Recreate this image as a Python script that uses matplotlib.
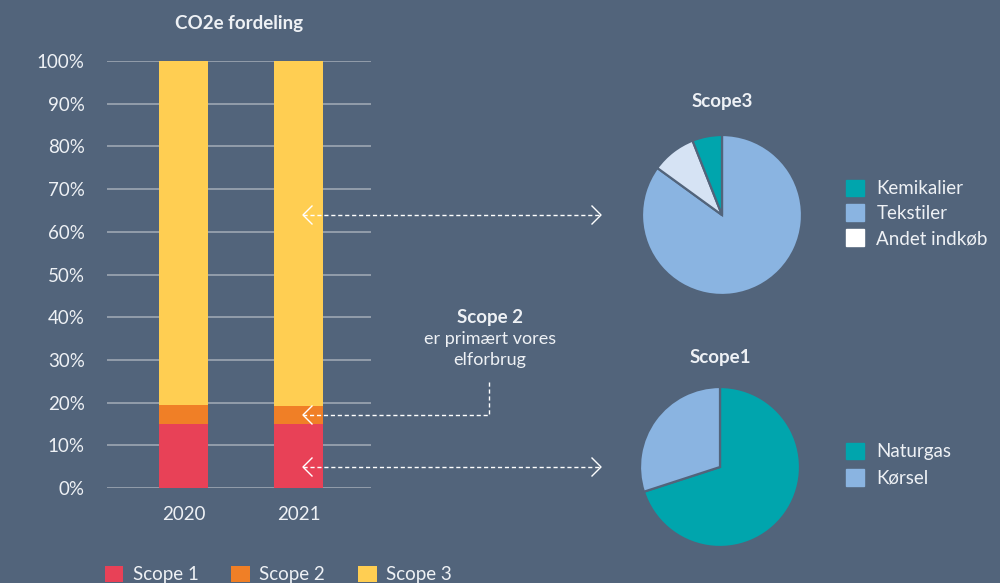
import matplotlib.pyplot as plt
from matplotlib.lines import Line2D
from matplotlib.patches import Patch

plt.rcParams['font.family'] = ['Lato', 'DejaVu Sans']

BG = '#52647b'
TXT = '#eef1f5'
GRID = '#97a1af'

# stacked bar data (share of total CO2e, %)
years = ['2020', '2021']
scope1 = [15.0, 15.0]
scope2 = [4.4, 4.2]
scope3 = [80.6, 80.8]
scope_names = ['Scope 1', 'Scope 2', 'Scope 3']
scope_colors = ['#e84157', '#f07f26', '#ffce52']

# scope 3 breakdown, clockwise from 12 o'clock
s3_labels = ['Tekstiler', 'Andet indkøb', 'Kemikalier']
s3_values = [85, 9, 6]
s3_colors = ['#8ab4e1', '#d6e3f4', '#00a5ad']
s3_legend = ['Kemikalier', 'Tekstiler', 'Andet indkøb']
s3_legend_colors = ['#00a5ad', '#8ab4e1', '#ffffff']

# scope 1 breakdown
s1_labels = ['Naturgas', 'Kørsel']
s1_values = [70, 30]
s1_colors = ['#00a5ad', '#8ab4e1']

W, H = 1000, 583
fig = plt.figure(figsize=(W / 100, H / 100), dpi=100, facecolor=BG)


def box(x0, y0, x1, y1):
    # pixel box (top-left origin) -> figure fraction rect
    return [x0 / W, (H - y1) / H, (x1 - x0) / W, (y1 - y0) / H]


def fx(x):
    return x / W


def fy(y):
    return (H - y) / H


# ---- stacked bars ----
ax = fig.add_axes(box(107, 61, 371, 488))
ax.set_facecolor(BG)
xs = range(len(years))
bw = 0.426
b1 = ax.bar(xs, scope1, width=bw, color=scope_colors[0], zorder=3)
b2 = ax.bar(xs, scope2, bottom=scope1, width=bw, color=scope_colors[1], zorder=3)
bottom3 = [a + b for a, b in zip(scope1, scope2)]
b3 = ax.bar(xs, scope3, bottom=bottom3, width=bw, color=scope_colors[2], zorder=3)
ax.set_xlim(-0.665, 1.63)
ax.set_ylim(0, 100)
ax.set_yticks(range(0, 101, 10))
ax.set_yticklabels([f'{v}%' for v in range(0, 101, 10)])
ax.set_xticks(list(xs))
ax.set_xticklabels(years)
ax.grid(axis='y', color=GRID, lw=1.3, zorder=0)
ax.tick_params(length=0, colors=TXT, labelsize=13.5)
ax.tick_params(axis='y', pad=16)
ax.tick_params(axis='x', pad=13)
for s in ax.spines.values():
    s.set_visible(False)
ax.set_title('CO2e fordeling', color=TXT, fontsize=13.5, fontweight='bold', pad=23)

fig.legend([b1, b2, b3], scope_names, loc='upper left',
           bbox_to_anchor=(fx(97), fy(558)), ncol=3, frameon=False,
           fontsize=13.5, labelcolor=TXT, handlelength=1.0, handleheight=1.0,
           handletextpad=0.5, columnspacing=1.75, borderaxespad=0)

# ---- pies ----
wp = dict(edgecolor=BG, linewidth=1.6)

ax3 = fig.add_axes(box(642, 135, 802, 295))
ax3.pie(s3_values, colors=s3_colors, startangle=90, counterclock=False,
        wedgeprops=wp, radius=1.0)
ax3.set_xlim(-1, 1)
ax3.set_ylim(-1, 1)
fig.text(fx(722), fy(101), 'Scope3', color=TXT, fontsize=13.5,
         fontweight='bold', ha='center', va='center')
fig.legend([Patch(color=c) for c in s3_legend_colors], s3_legend,
           loc='upper left', bbox_to_anchor=(fx(838), fy(172)), frameon=False,
           fontsize=13.5, labelcolor=TXT, handlelength=1.0, handleheight=1.0,
           handletextpad=0.65, labelspacing=0.38, borderaxespad=0)

ax1 = fig.add_axes(box(640, 387, 800, 547))
ax1.pie(s1_values, colors=s1_colors, startangle=90, counterclock=False,
        wedgeprops=wp, radius=1.0)
ax1.set_xlim(-1, 1)
ax1.set_ylim(-1, 1)
fig.text(fx(720), fy(357), 'Scope1', color=TXT, fontsize=13.5,
         fontweight='bold', ha='center', va='center')
fig.legend([Patch(color=c) for c in s1_colors], s1_labels,
           loc='upper left', bbox_to_anchor=(fx(838), fy(435)), frameon=False,
           fontsize=13.5, labelcolor=TXT, handlelength=1.0, handleheight=1.0,
           handletextpad=0.65, labelspacing=0.45, borderaxespad=0)

# ---- annotations ----
fig.text(fx(490), fy(318), 'Scope 2', color=TXT, fontsize=13.5,
         fontweight='bold', ha='center', va='center')
fig.text(fx(490), fy(339), 'er primært vores', color=TXT, fontsize=13,
         ha='center', va='center')
fig.text(fx(490), fy(360), 'elforbrug', color=TXT, fontsize=13,
         ha='center', va='center')


def dashed(pts):
    fig.add_artist(Line2D([fx(p[0]) for p in pts], [fy(p[1]) for p in pts],
                          color='white', lw=1.0, ls=(0, (3, 2))))


def chevron(x, y, direction):
    d = 9 * direction
    fig.add_artist(Line2D([fx(x + d), fx(x), fx(x + d)],
                          [fy(y - 9), fy(y), fy(y + 9)],
                          color='white', lw=1.0))


for yy in (215, 467):
    dashed([(303, yy), (601, yy)])
    chevron(303, yy, 1)
    chevron(601, yy, -1)

dashed([(489, 382), (489, 415), (303, 415)])
chevron(303, 415, 1)

fig.savefig('out.png', dpi=100, facecolor=BG)
